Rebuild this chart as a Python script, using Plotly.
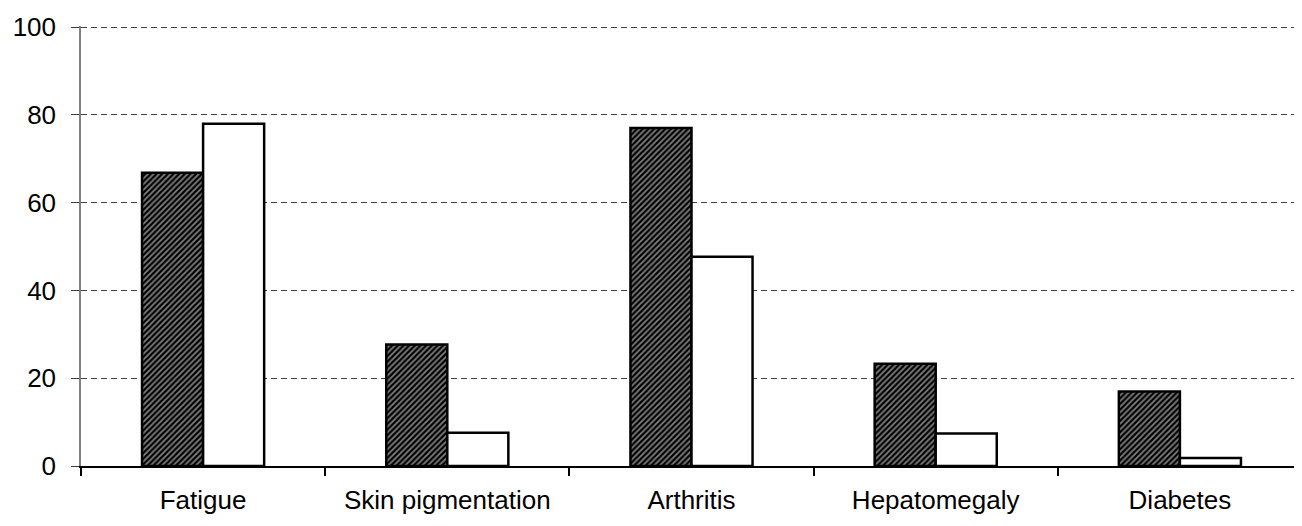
import plotly.graph_objects as go

categories = ["Fatigue", "Skin pigmentation", "Arthritis", "Hepatomegaly", "Diabetes"]
series_hatched = [66.8, 27.7, 77.0, 23.3, 17.0]
series_white = [78.0, 7.6, 47.7, 7.4, 1.8]
y_ticks = [0, 20, 40, 60, 80, 100]

FONT = "Liberation Sans, Arial, sans-serif"

fig = go.Figure()
fig.add_trace(go.Bar(
    x=categories, y=series_hatched, name="A",
    marker=dict(color="black",
                line=dict(color="black", width=2.5),
                pattern=dict(shape="/", bgcolor="black", fgcolor="white",
                             size=4, solidity=0.45, fillmode="overlay")),
))
fig.add_trace(go.Bar(
    x=categories, y=series_white, name="B",
    marker=dict(color="white", line=dict(color="black", width=2.5)),
))

fig.update_layout(
    width=1294, height=518,
    margin=dict(l=73, r=0, t=18, b=60),
    barmode="group", bargap=0.5, bargroupgap=0,
    showlegend=False,
    plot_bgcolor="white", paper_bgcolor="white",
    font=dict(family=FONT, size=26, color="black"),
)
fig.update_xaxes(
    automargin=False,
    showline=True, linecolor="black", linewidth=1.5,
    ticks="outside", tickson="boundaries", ticklen=8, tickcolor="black", tickwidth=1.5,
    showgrid=False, ticklabelstandoff=10,
)
fig.update_yaxes(
    automargin=False,
    range=[0, 100.25], tickvals=y_ticks,
    showline=True, linecolor="#808080", linewidth=1.5,
    ticks="outside", ticklen=8, tickcolor="#404040", tickwidth=1,
    showgrid=True, gridcolor="#404040", gridwidth=1, griddash="6px,4px",
    zeroline=False, ticklabelstandoff=10,
)
fig.write_html("out.html")
